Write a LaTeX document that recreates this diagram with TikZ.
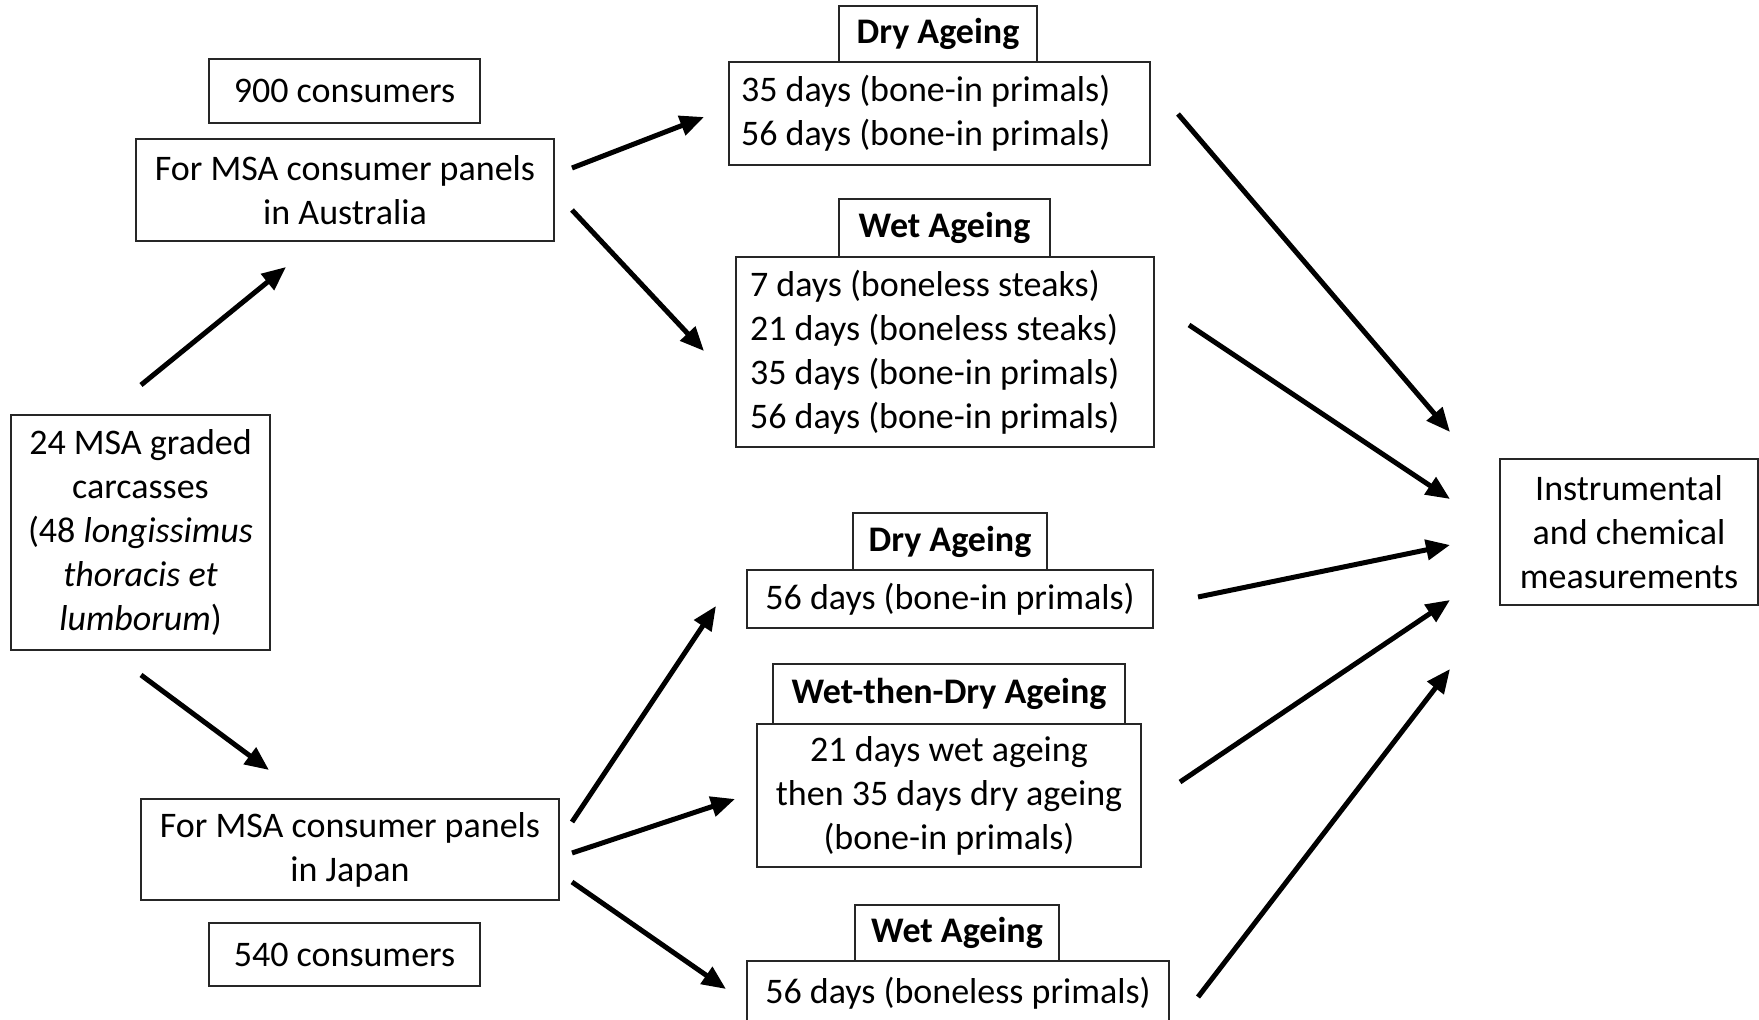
\documentclass[tikz,border=0pt]{standalone}
\usepackage{fontspec}
\setmainfont{Carlito}
\usetikzlibrary{arrows.meta}
\begin{document}
\begin{tikzpicture}[x=0.5pt,y=-0.5pt,
  box/.style={draw=black!85, line width=0.7pt, rectangle, inner sep=0pt, align=center,
    font=\fontsize{18}{22}\selectfont, text=black},
  lbox/.style={box, align=flush left},
  title/.style={box, font=\fontsize{18}{22}\selectfont\bfseries},
  sz/.style 2 args={minimum width={0.5*#1 pt}, minimum height={0.5*#2 pt}},
  arr/.style={line width=2.5pt, -{Triangle[length=12pt,width=10pt]}}]
\clip (0,0) rectangle (1759,1020);
\fill[white] (0,0) rectangle (1759,1020);
% left column
\node[box, sz={271}{64}] (c900) at (344.5,91) {900 consumers};
\node[box, sz={418}{102}] (aus) at (345,190) {For MSA consumer panels\\in Australia};
\node[box, sz={259}{235}] (carc) at (140.5,532.5) {24 MSA graded\\carcasses\\(48 \textit{longissimus}\\\textit{thoracis et}\\\textit{lumborum})};
\node[box, sz={418}{101}] (jap) at (350,849.5) {For MSA consumer panels\\in Japan};
\node[box, sz={271}{63}] (c540) at (344.5,954.5) {540 consumers};
% middle column
\node[title, sz={198}{56}] (dryT1) at (938,34) {Dry Ageing};
\node[lbox, sz={421}{103}, inner xsep=6pt, text width=198.5pt] (dry1) at (939.5,113.5) {35 days (bone-in primals)\\56 days (bone-in primals)};
\node[title, sz={211}{58}] (wetT1) at (944.5,228) {Wet Ageing};
\node[lbox, sz={418}{190}, inner xsep=7pt, text width=195pt] (wet1) at (945,352) {7 days (boneless steaks)\\21 days (boneless steaks)\\35 days (bone-in primals)\\56 days (bone-in primals)};
\node[title, sz={194}{57}] (dryT2) at (950,541.5) {Dry Ageing};
\node[box, sz={406}{58}] (dry2) at (950,599) {56 days (bone-in primals)};
\node[title, sz={352}{60}] (wtdT) at (949,694) {Wet-then-Dry Ageing};
\node[box, sz={384}{143}] (wtd) at (949,795.5) {21 days wet ageing\\then 35 days dry ageing\\(bone-in primals)};
\node[title, sz={204}{56}] (wetT2) at (957,933) {Wet Ageing};
\node[box, sz={422}{64}] (wet2) at (958,993) {56 days (boneless primals)};
% right
\node[box, sz={258}{146}] (instr) at (1629,532) {Instrumental\\and chemical\\measurements};
% arrow end points
\coordinate (carcUp) at (141,385);   \coordinate (ausIn) at (286,267);
\coordinate (carcDn) at (141,675);   \coordinate (japIn) at (269,770);
\coordinate (ausA) at (572,168);     \coordinate (dry1In) at (704,117);
\coordinate (ausB) at (572,210);     \coordinate (wet1In) at (704,351);
\coordinate (japA) at (572,822);     \coordinate (dry2In) at (716,606);
\coordinate (japB) at (572,853);     \coordinate (wtdIn) at (735,799);
\coordinate (japC) at (572,882);     \coordinate (wet2In) at (726,989);
\coordinate (dry1Out) at (1178,114); \coordinate (instrA) at (1450,432);
\coordinate (wet1Out) at (1189,325); \coordinate (instrB) at (1450,499);
\coordinate (dry2Out) at (1198,597); \coordinate (instrC) at (1450,545);
\coordinate (wtdOut) at (1180,782);  \coordinate (instrD) at (1450,600);
\coordinate (wet2Out) at (1198,997); \coordinate (instrE) at (1450,669);
\draw[arr] (carcUp) -- (ausIn);
\draw[arr] (carcDn) -- (japIn);
\draw[arr] (ausA) -- (dry1In);
\draw[arr] (ausB) -- (wet1In);
\draw[arr] (japA) -- (dry2In);
\draw[arr] (japB) -- (wtdIn);
\draw[arr] (japC) -- (wet2In);
\draw[arr] (dry1Out) -- (instrA);
\draw[arr] (wet1Out) -- (instrB);
\draw[arr] (dry2Out) -- (instrC);
\draw[arr] (wtdOut) -- (instrD);
\draw[arr] (wet2Out) -- (instrE);
\end{tikzpicture}
\end{document}
